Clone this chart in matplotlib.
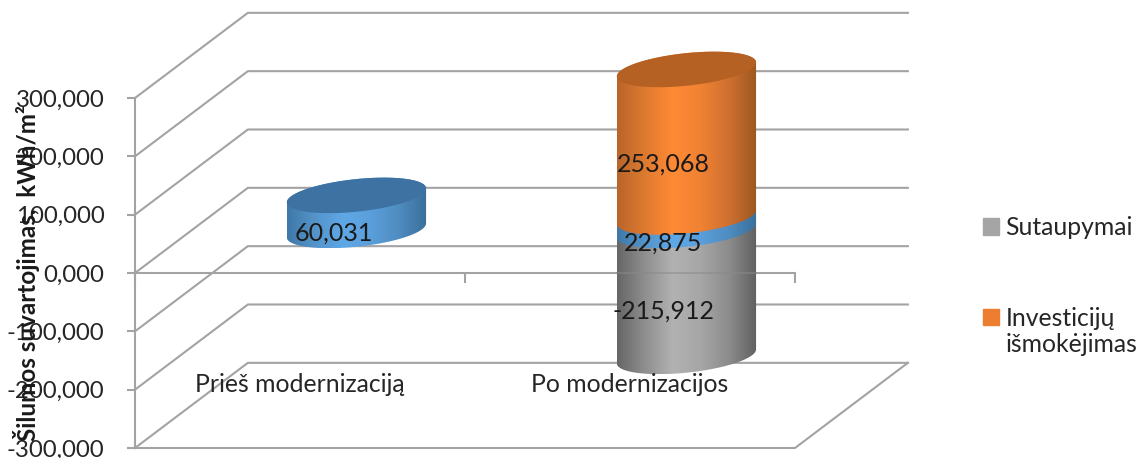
import numpy as np
import matplotlib
matplotlib.use('Agg')
import matplotlib.pyplot as plt
from matplotlib.colors import LinearSegmentedColormap
from matplotlib.patches import Patch, PathPatch, Polygon
from matplotlib.path import Path

categories = ['Prieš modernizaciją', 'Po modernizacijos']
sutaupymai = [0, -215.912]
silumos_kaina = [60.031, 22.875]  # blue series, not in the legend
investicijos = [0, 253.068]
y_ticks = [-300, -200, -100, 0, 100, 200, 300]
y_tick_labels = ['-300,000', '-200,000', '-100,000', '0,000', '100,000', '200,000', '300,000']

plt.rcParams['font.family'] = ['Lato', 'DejaVu Sans']

GRID = '#a3a3a3'
DEPTH_X = 0.342  # in category widths
DEPTH_Y = 146  # in value units
RX, RY, SHEAR = 0.211, 28, 12  # cylinder ellipse

fig = plt.figure(figsize=(11.42, 4.58), dpi=100)
ax = fig.add_axes([135 / 1142, 10 / 458, 660 / 1142, 350 / 458])
ax.set_xlim(0, 2)
ax.set_ylim(-300, 300)
ax.patch.set_alpha(0)

# walls
for v in y_ticks:
    ax.plot([0, DEPTH_X, 2 + DEPTH_X], [v, v + DEPTH_Y, v + DEPTH_Y], color=GRID, lw=1.5, clip_on=False, zorder=1)
ax.plot([0, 2, 2 + DEPTH_X], [-300, -300, -300 + DEPTH_Y], color=GRID, lw=1.5, clip_on=False, zorder=1)

for s in ['top', 'right']:
    ax.spines[s].set_visible(False)
ax.spines['left'].set_color(GRID)
ax.spines['left'].set_linewidth(1.5)
ax.spines['bottom'].set_position(('data', 0))
ax.spines['bottom'].set_color(GRID)
ax.spines['bottom'].set_linewidth(1.5)
ax.set_xticks([0, 1, 2])
ax.set_xticklabels([])
ax.tick_params(axis='x', length=7, width=1.5, color=GRID)
ax.set_yticks(y_ticks)
ax.set_yticklabels(y_tick_labels)
ax.tick_params(axis='y', length=6, width=1.5, color=GRID, pad=16, labelsize=17.3, labelcolor='#262626')


def ellipse(cx, cy, t):
    return cx + RX * np.cos(t), cy + SHEAR * np.cos(t) + RY * np.sin(t)


def segment(cx, y0, y1, colors, cap=None):
    bx, by = ellipse(cx, y0, np.linspace(np.pi, 2 * np.pi, 60))
    tx, ty = ellipse(cx, y1, np.linspace(0, np.pi, 60))
    verts = np.column_stack([np.r_[bx, tx], np.r_[by, ty]])
    cmap = LinearSegmentedColormap.from_list('c', colors)
    im = ax.imshow(np.linspace(0, 1, 256)[None, :], cmap=cmap, aspect='auto', interpolation='bilinear',
                   extent=[cx - RX, cx + RX, min(by.min(), ty.min()), max(by.max(), ty.max())], zorder=3)
    im.set_clip_box(fig.bbox)
    im.set_clip_path(PathPatch(Path(verts, closed=False), transform=ax.transData))
    if cap:
        cx_, cy_ = ellipse(cx, y1, np.linspace(0, 2 * np.pi, 120))
        ax.add_patch(Polygon(np.column_stack([cx_, cy_]), closed=True, fc=cap, ec='none', clip_on=False, zorder=4))


GRAY = ['#666666', '#8f8f8f', '#b2b2b2', '#a6a6a6', '#8c8c8c', '#606060']
BLUE = ['#3f78a8', '#5494ca', '#5fa8e6', '#5a9fdb', '#4f8cc0', '#3a6f9c']
ORANGE = ['#b9652a', '#de7a30', '#ff8a35', '#f08233', '#cf7030', '#9c5820']

for i in range(len(categories)):
    cx = i + 0.5 + DEPTH_X / 2
    base = DEPTH_Y / 2
    if sutaupymai[i] != 0:
        segment(cx, base + sutaupymai[i], base, GRAY)
        # faint zero line showing through the gray cylinder
        ax.plot([cx - RX, cx + RX], [0, 0], color='#8a8a8a', lw=1.2, alpha=0.6, zorder=5)
    top = base + silumos_kaina[i]
    segment(cx, base, top, BLUE, cap='#3d72a3' if investicijos[i] == 0 else None)
    if investicijos[i] != 0:
        segment(cx, top, top + investicijos[i], ORANGE, cap='#b56123')

ax.set_xlim(0, 2)
ax.set_ylim(-300, 300)


def lt(v):
    return f'{v:.3f}'.replace('.', ',')


lab = dict(ha='center', va='center', fontsize=18, color='#1a1a1a', zorder=6, clip_on=False)
ax.text(0.603, 68, lt(silumos_kaina[0]), **lab)
ax.text(1.6, 187, lt(investicijos[1]), **lab)
ax.text(1.6, 51, lt(silumos_kaina[1]), **lab)
ax.text(1.6, -65, lt(sutaupymai[1]), **lab)

for i, c in enumerate(categories):
    ax.text(i + 0.5, -191, c, ha='center', va='center', fontsize=17.8, color='#262626', zorder=6)

fig.text(27 / 1142, 1 - 273 / 458, 'Šilumos suvartojimas,  kWh/m²', rotation=90, ha='center', va='center',
         fontsize=17.5, fontweight='bold', color='#1a1a1a')

handles = [Patch(color='#a5a5a5'), Patch(color='#ed7d31')]
fig.legend(handles, ['Sutaupymai', 'Investicijų'], loc='upper left',
           bbox_to_anchor=(961 / 1142, 1 - 194 / 458), frameon=False, fontsize=17.8, handlelength=0.65,
           handleheight=0.65, handletextpad=0.24, labelspacing=2.73, labelcolor='#262626')
fig.text(1006 / 1142, 1 - 344 / 458, 'išmokėjimas', ha='left', va='center', fontsize=17.8, color='#262626')

fig.savefig('out.png', dpi=100)
